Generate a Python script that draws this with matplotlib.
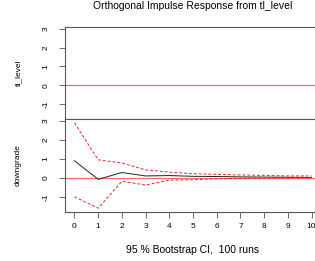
import matplotlib
matplotlib.use("Agg")
import matplotlib.pyplot as plt

plt.rcParams['font.family'] = ['Liberation Sans', 'DejaVu Sans']

# impulse response of downgrade to tl_level shock
horizon = [0, 1, 2, 3, 4, 5, 6, 7, 8, 9, 10]
irf_down = [0.9, -0.08, 0.28, 0.1, 0.12, 0.08, 0.07, 0.05, 0.04, 0.03, 0.02]
upper_down = [2.9, 0.95, 0.78, 0.42, 0.3, 0.22, 0.18, 0.15, 0.13, 0.1, 0.1]
lower_down = [-1.0, -1.6, -0.18, -0.38, -0.12, -0.1, -0.05, -0.03, -0.02, -0.01, 0.0]
yticks = [-1, 0, 1, 2, 3]
panel_names = ["tl_level", "downgrade"]

fig = plt.figure(figsize=(3.15, 2.61), dpi=100)
ax1 = fig.add_axes([65/315, 1 - 119/261, 256/315, 92/261])
ax2 = fig.add_axes([65/315, 1 - 212/261, 256/315, 93/261])

frame_col = "#555555"
fs = 6

for ax, name in zip([ax1, ax2], panel_names):
    ax.set_xlim(-0.4, 10.4)
    ax.set_ylim(-1.8, 3.1)
    ax.axhline(0, color="#ff6a6a", lw=0.9)
    ax.set_yticks(yticks)
    ax.set_yticklabels([str(t) for t in yticks], rotation=90, va="center", fontsize=fs)
    ax.tick_params(axis="y", length=4, width=0.6, color=frame_col, pad=7)
    for s in ax.spines.values():
        s.set_color(frame_col)
        s.set_linewidth(0.8)
    ax.set_ylabel(name, fontsize=fs, labelpad=15)

ax1.set_xticks([])
ax1.set_title("Orthogonal Impulse Response from tl_level", fontsize=7.5, pad=13)

ax2.plot(horizon, irf_down, color="#222222", lw=0.7)
ax2.plot(horizon, upper_down, color="#ee2222", lw=0.7, ls=(0, (3, 2)))
ax2.plot(horizon, lower_down, color="#ee2222", lw=0.7, ls=(0, (3, 2)))
ax2.set_xticks(horizon)
ax2.set_xticklabels([str(h) for h in horizon], fontsize=fs)
ax2.tick_params(axis="x", length=4, width=0.6, color=frame_col, pad=4)
ax2.set_xlabel("95 % Bootstrap CI,  100 runs", fontsize=7.5, labelpad=11)

fig.savefig("out.png", dpi=100)
